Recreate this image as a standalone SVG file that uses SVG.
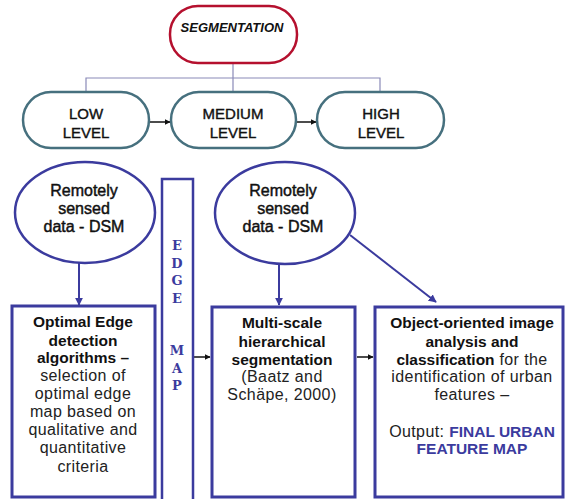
<svg xmlns="http://www.w3.org/2000/svg" width="565" height="499" viewBox="0 0 565 499">
<defs>
<marker id="ab" viewBox="0 0 10 10" refX="9" refY="5" markerWidth="6" markerHeight="6" orient="auto" markerUnits="userSpaceOnUse"><path d="M0,0 L10,5 L0,10 Z" fill="#111"/></marker>
<marker id="au" viewBox="0 0 10 10" refX="9" refY="5" markerWidth="8" markerHeight="8" orient="auto" markerUnits="userSpaceOnUse"><path d="M0,0 L10,5 L0,10 Z" fill="#3b3b9e"/></marker>
<style>
.lvl{fill:#fff;stroke:#46707e;stroke-width:2.5}
.ell{fill:#fff;stroke:#3b3b9e;stroke-width:2.5}
.box{fill:#fff;stroke:#3b3b9e;stroke-width:3}
.t{font-family:"Liberation Sans",Arial,sans-serif;text-anchor:middle;fill:#111}
.lt{font-size:15px;stroke:#111;stroke-width:0.4}
.et{font-size:16px;stroke:#111;stroke-width:0.45}
.b{font-size:15.5px;font-weight:bold}
.r{font-size:16px;letter-spacing:0.4px;fill:#222}
.em{font-family:"DejaVu Serif","Liberation Serif",serif;font-weight:bold;font-size:13px;fill:#3b3b9e;text-anchor:middle}
.bl{fill:#3b3b9e;font-weight:bold}
.tree{fill:none;stroke:#8a8ab8;stroke-width:1.2}
.ck{stroke:#111;stroke-width:1.5;fill:none}
.cb{stroke:#3b3b9e;stroke-width:2;fill:none}
</style>
</defs>
<g id="connectors">
<path class="tree" d="M233,63 V78 M86,91 V78 H380 V91 M233,78 V91"/>
<line class="ck" x1="150" y1="122" x2="170" y2="122" marker-end="url(#ab)"/>
<line class="ck" x1="297" y1="122" x2="316" y2="122" marker-end="url(#ab)"/>
<line class="ck" x1="194" y1="357" x2="210" y2="357" marker-end="url(#ab)"/>
<line class="ck" x1="357" y1="357" x2="373" y2="357" marker-end="url(#ab)"/>
<line class="cb" x1="79" y1="263" x2="79" y2="305" marker-end="url(#au)"/>
<line class="cb" x1="279" y1="264" x2="279" y2="305" marker-end="url(#au)"/>
<line class="cb" x1="350" y1="235" x2="436" y2="302" marker-end="url(#au)"/>
</g>
<g id="segmentation">
<rect x="170" y="6" width="127" height="57" rx="28" fill="#fff" stroke="#b5102e" stroke-width="2.5"/>
<text class="t" x="232" y="32" font-size="13" font-style="italic" font-weight="bold">SEGMENTATION</text>
</g>
<g id="low">
<rect class="lvl" x="23" y="92" width="126" height="56" rx="28"/>
<text class="t lt" x="86" y="119">LOW</text>
<text class="t lt" x="86" y="138">LEVEL</text>
</g>
<g id="medium">
<rect class="lvl" x="171" y="92" width="125" height="56" rx="28"/>
<text class="t lt" x="233" y="119">MEDIUM</text>
<text class="t lt" x="233" y="138">LEVEL</text>
</g>
<g id="high">
<rect class="lvl" x="317" y="92" width="127" height="56" rx="28"/>
<text class="t lt" x="381" y="119">HIGH</text>
<text class="t lt" x="381" y="138">LEVEL</text>
</g>
<g id="dsm1">
<ellipse class="ell" cx="85" cy="212.5" rx="70" ry="50.5"/>
<text class="t et" x="84" y="196">Remotely</text>
<text class="t et" x="84" y="214">sensed</text>
<text class="t et" x="84" y="232">data - DSM</text>
</g>
<g id="dsm2">
<ellipse class="ell" cx="285" cy="213" rx="70" ry="51"/>
<text class="t et" x="283" y="196">Remotely</text>
<text class="t et" x="283" y="214">sensed</text>
<text class="t et" x="283" y="232">data - DSM</text>
</g>
<g id="edgemap">
<rect x="162" y="179" width="31" height="325" fill="#fff" stroke="#3b3b9e" stroke-width="2.5"/>
<text class="em" x="177" y="250">E</text>
<text class="em" x="177" y="268">D</text>
<text class="em" x="177" y="285">G</text>
<text class="em" x="177" y="303">E</text>
<text class="em" x="177" y="355">M</text>
<text class="em" x="177" y="373">A</text>
<text class="em" x="177" y="390">P</text>
</g>
<g id="edgedetect">
<rect class="box" x="12" y="306" width="143" height="191"/>
<text class="t b" x="83" y="327">Optimal Edge</text>
<text class="t b" x="83" y="346">detection</text>
<text class="t b" x="83" y="363">algorithms –</text>
<text class="t r" x="83" y="381">selection of</text>
<text class="t r" x="83" y="399">optimal edge</text>
<text class="t r" x="83" y="417">map based on</text>
<text class="t r" x="83" y="435">qualitative and</text>
<text class="t r" x="83" y="453">quantitative</text>
<text class="t r" x="83" y="472">criteria</text>
</g>
<g id="multiscale">
<rect class="box" x="212" y="307" width="143" height="190"/>
<text class="t b" x="282" y="328">Multi-scale</text>
<text class="t b" x="282" y="347">hierarchical</text>
<text class="t b" x="282" y="365">segmentation</text>
<text class="t r" x="282" y="382">(Baatz and</text>
<text class="t r" x="282" y="400">Schäpe, 2000)</text>
</g>
<g id="objectoriented">
<rect class="box" x="375" y="307" width="188" height="190"/>
<text class="t b" x="472" y="328">Object-oriented image</text>
<text class="t b" x="472" y="347">analysis and</text>
<text class="t" x="472" y="365"><tspan class="b">classification</tspan><tspan class="r"> for the</tspan></text>
<text class="t r" x="472" y="382">identification of urban</text>
<text class="t r" x="472" y="400">features –</text>
<text class="t" x="472" y="437"><tspan class="r">Output: </tspan><tspan class="b bl">FINAL URBAN</tspan></text>
<text class="t b bl" x="472" y="454">FEATURE MAP</text>
</g>
</svg>
